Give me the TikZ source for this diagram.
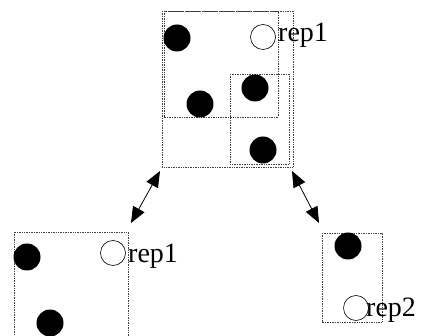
\documentclass[tikz,border=0pt]{standalone}
\usepackage{fontspec}
\setmainfont{Liberation Serif}
\usetikzlibrary{arrows.meta}
\begin{document}
\begin{tikzpicture}[x=1pt,y=-1pt,
  region/.style={draw=black!75,densely dotted,line width=0.7pt},
  full/.style={circle,fill=black,minimum size=27pt,inner sep=0pt},
  empty/.style={circle,draw=black,line width=0.6pt,minimum size=25pt,inner sep=0pt},
  lbl/.style={anchor=base west,inner sep=0pt,font=\fontsize{28}{28}\selectfont},
  link/.style={line width=0.8pt,{Triangle[length=16pt,width=13pt]}-{Triangle[length=16pt,width=13pt]}}]
\useasboundingbox (0,0) rectangle (433,336);
% top group
\draw[region] (162,11) rectangle (293,167);
\draw[region] (164,11) rectangle (278,117);
\draw[region] (230,74) rectangle (289,164);
\node[full] (t1) at (177,38) {};
\node[full] (t2) at (200,104) {};
\node[full] (t3) at (255,88) {};
\node[full] (t4) at (263,150) {};
\node[empty] (t5) at (263,37) {};
\node[lbl] (r1) at (278,42) {rep1};
% bottom left
\draw[region] (14,232) rectangle (128,340);
\node[full] (l1) at (27,257) {};
\node[full] (l2) at (50,323) {};
\node[empty] (l3) at (113,253) {};
\node[lbl] (r2) at (128,262) {rep1};
% bottom right
\draw[region] (322,233) rectangle (382,322);
\node[full] (b1) at (348,246) {};
\node[empty] (b2) at (356,308) {};
\node[lbl] (r3) at (366,316) {rep2};
% arrows
\coordinate (a1) at (160,171);
\coordinate (a2) at (131,223);
\coordinate (a3) at (292,171);
\coordinate (a4) at (319,223);
\draw[link] (a1) -- (a2);
\draw[link] (a3) -- (a4);
\end{tikzpicture}
\end{document}
